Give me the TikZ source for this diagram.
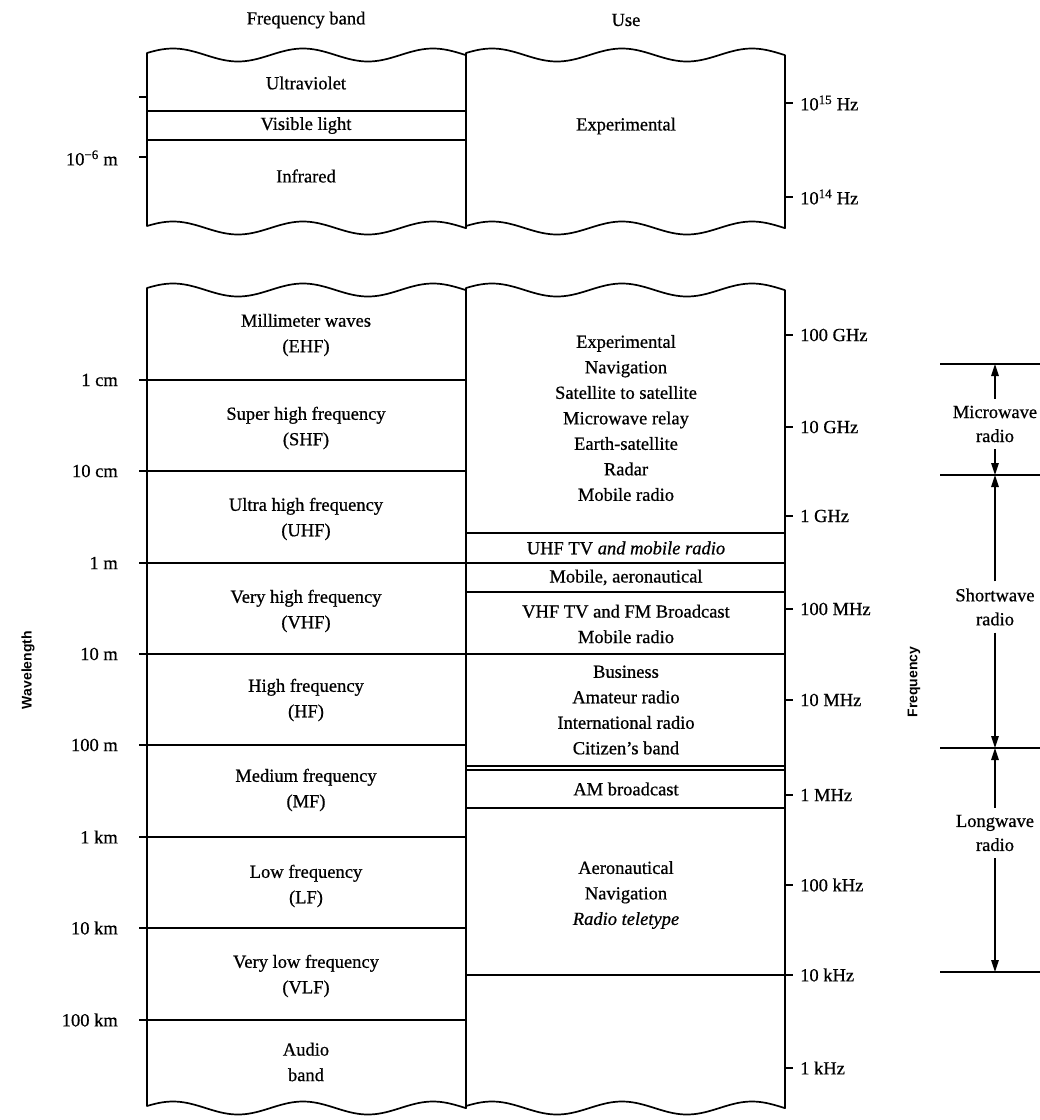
\documentclass[tikz,border=0pt]{standalone}
\usepackage{fontspec}
\setmainfont{Liberation Serif}[UprightFeatures={FakeBold=0.7},ItalicFeatures={FakeBold=0.7}]
\setsansfont{Liberation Sans}
\usetikzlibrary{arrows.meta}
\begin{document}
\begin{tikzpicture}[x=1pt,y=-1pt,
  txt/.style={font=\fontsize{18.5}{25.5}\selectfont, align=center, inner sep=0pt},
  lbl/.style={font=\fontsize{18.5}{22}\selectfont, inner sep=0pt},
  axl/.style={font=\sffamily\bfseries\fontsize{14}{16}\selectfont, rotate=90, inner sep=0pt},
  edge/.style={line width=1.7pt},
  tick/.style={line width=1.5pt},
  arr/.style={line width=1.4pt, -{Triangle[length=12pt,width=7.5pt]}},
  brk/.style={font=\fontsize{18.5}{24}\selectfont, align=center, inner sep=7pt},
]
\useasboundingbox (0,0) rectangle (1040,1120);

% panels (wavy top and bottom edges)
\foreach \xl/\ya/\yb in {147/55/228, 466/55/228, 147/290/1108, 466/290/1108} {
  \draw[edge, line join=round]
    plot[domain=0:319,samples=70,smooth] ({\xl+\x},{\ya-6.5*cos(2.7692*(\x-26))})
    -- plot[domain=319:0,samples=70,smooth] ({\xl+\x},{\yb-6.5*cos(2.7692*(\x-26))})
    -- cycle;
}

% headers
\node[lbl] (hband) at (306,20) {Frequency band};
\node[lbl] (huse) at (626,20) {Use};

% ---------- top panel ----------
\draw[edge] (147,111) -- (466,111);
\draw[edge] (147,140) -- (466,140);
\draw[tick] (139,97) -- (147,97);
\draw[tick] (139,157) -- (147,157);
\draw[tick] (785,103) -- (793,103);
\draw[tick] (785,197) -- (793,197);
\node[txt] (uv) at (306,83) {Ultraviolet};
\node[txt] (vis) at (306,125.5) {Visible light};
\node[txt] (ir) at (306,176) {Infrared};
\node[txt] (exptop) at (626,126) {Experimental};
\node[lbl, anchor=east] (wl6) at (118,158) {10\textsuperscript{\char"2212 6} m};
\node[lbl, anchor=west] (f15) at (800,103) {10\textsuperscript{15} Hz};
\node[lbl, anchor=west] (f14) at (800,197) {10\textsuperscript{14} Hz};

% ---------- bottom panel: left column ----------
\foreach \yy in {380,471,563,654,745,837,928,1020} {
  \draw[edge] (139,\yy) -- (466,\yy);
}
\node[lbl, anchor=east] (w1) at (118,380) {1 cm};
\node[lbl, anchor=east] (w2) at (118,471) {10 cm};
\node[lbl, anchor=east] (w3) at (118,563) {1 m};
\node[lbl, anchor=east] (w4) at (118,654) {10 m};
\node[lbl, anchor=east] (w5) at (118,745) {100 m};
\node[lbl, anchor=east] (w6) at (118,837) {1 km};
\node[lbl, anchor=east] (w7) at (118,928) {10 km};
\node[lbl, anchor=east] (w8) at (118,1020) {100 km};

\node[txt] (ehf) at (306,335) {Millimeter waves\\(EHF)};
\node[txt] (shf) at (306,428) {Super high frequency\\(SHF)};
\node[txt] (uhf) at (306,519) {Ultra high frequency\\(UHF)};
\node[txt] (vhf) at (306,611) {Very high frequency\\(VHF)};
\node[txt] (hf) at (306,700) {High frequency\\(HF)};
\node[txt] (mf) at (306,790) {Medium frequency\\(MF)};
\node[txt] (lf) at (306,886) {Low frequency\\(LF)};
\node[txt] (vlf) at (306,976) {Very low frequency\\(VLF)};
\node[txt] (aud) at (306,1062) {Audio\\band};

% ---------- bottom panel: right column ----------
\foreach \yy in {533,563,592,654,766,770,808,975} {
  \draw[edge] (466,\yy) -- (785,\yy);
}
\foreach \yy in {335,427,516,609,700,795,885,975,1068} {
  \draw[tick] (785,\yy) -- (793,\yy);
}
\node[lbl, anchor=west] (f1) at (800,335) {100 GHz};
\node[lbl, anchor=west] (f2) at (800,427) {10 GHz};
\node[lbl, anchor=west] (f3) at (800,516) {1 GHz};
\node[lbl, anchor=west] (f4) at (800,609) {100 MHz};
\node[lbl, anchor=west] (f5) at (800,700) {10 MHz};
\node[lbl, anchor=west] (f6) at (800,795) {1 MHz};
\node[lbl, anchor=west] (f7) at (800,885) {100 kHz};
\node[lbl, anchor=west] (f8) at (800,975) {10 kHz};
\node[lbl, anchor=west] (f9) at (800,1068) {1 kHz};

\node[txt] (exp) at (626,418) {Experimental\\Navigation\\Satellite to satellite\\Microwave relay\\Earth-satellite\\Radar\\Mobile radio};
\node[txt] (uhftv) at (626,548) {UHF TV \textit{and mobile radio}};
\node[txt] (aero1) at (626,577.5) {Mobile, aeronautical};
\node[txt] (vhftv) at (626,624) {VHF TV and FM Broadcast\\Mobile radio};
\node[txt] (bus) at (626,710) {Business\\Amateur radio\\International radio\\Citizen's band};
\node[txt] (am) at (626,789) {AM broadcast};
\node[txt] (aero2) at (626,895) {Aeronautical\\Navigation\\\textit{Radio teletype}};

% ---------- axis titles ----------
\node[axl] (wlt) at (28,670) {Wavelength};
\node[axl] (frt) at (914,682) {Frequency};

% ---------- radio ranges ----------
\foreach \yy in {364,475,748,972} {
  \draw[edge] (940,\yy) -- (1040,\yy);
}
\coordinate (b1) at (995,364);
\coordinate (b2) at (995,475);
\coordinate (b3) at (995,748);
\coordinate (b4) at (995,972);
\node[brk] (mw) at (995,424) {Microwave\\radio};
\node[brk] (sw) at (995,607) {Shortwave\\radio};
\node[brk] (lw) at (995,833) {Longwave\\radio};
\draw[arr] (mw.north) -- (b1);
\draw[arr] (mw.south) -- (b2);
\draw[arr] (sw.north) -- (b2);
\draw[arr] (sw.south) -- (b3);
\draw[arr] (lw.north) -- (b3);
\draw[arr] (lw.south) -- (b4);
\end{tikzpicture}
\end{document}
